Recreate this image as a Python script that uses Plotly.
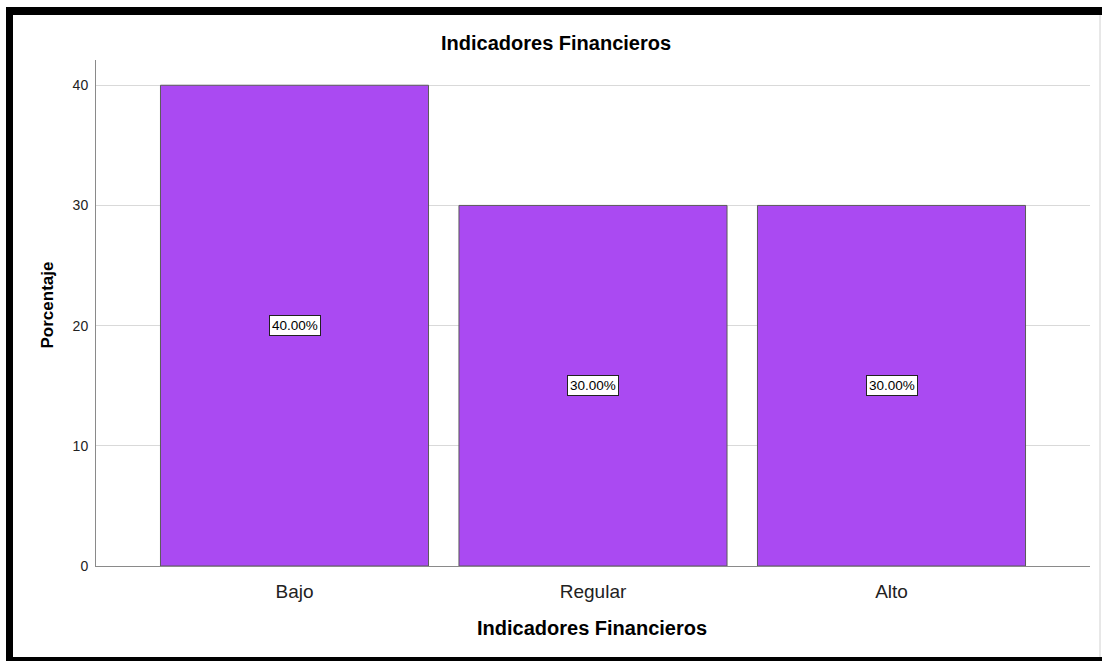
import plotly.graph_objects as go

categories = ["Bajo", "Regular", "Alto"]
percentages = [40.0, 30.0, 30.0]
label_texts = ["40.00%", "30.00%", "30.00%"]
y_ticks = [0, 10, 20, 30, 40]

W, H = 1102, 661
ML, MR, MT, MB = 96, 12, 60, 95
PW = W - ML - MR
PH = H - MT - MB

def px_x(px):
    return (px - ML) / PW

def px_y(py):
    return (H - MB - py) / PH

FONT = "Liberation Sans, Arial, Helvetica, sans-serif"
BAR = "#AA4AF2"

fig = go.Figure()
fig.add_trace(go.Bar(
    x=categories, y=percentages,
    marker=dict(color=BAR, line=dict(color="#5a5a5a", width=1)),
    width=0.898, hoverinfo="skip", showlegend=False,
))

annotations = []
for c, v, t in zip(categories, percentages, label_texts):
    annotations.append(dict(
        x=c, y=v / 2, xref="x", yref="y", text=t, showarrow=False,
        font=dict(family=FONT, size=13.5, color="#000"),
        bgcolor="white", bordercolor="#222", borderwidth=1, borderpad=2,
    ))

annotations += [
    dict(x=px_x(556), y=px_y(43), xref="paper", yref="paper",
         text="<b>Indicadores Financieros</b>", showarrow=False,
         font=dict(family=FONT, size=20, color="#000"), xanchor="center", yanchor="middle"),
    dict(x=px_x(592), y=px_y(628), xref="paper", yref="paper",
         text="<b>Indicadores Financieros</b>", showarrow=False,
         font=dict(family=FONT, size=20, color="#000"), xanchor="center", yanchor="middle"),
    dict(x=px_x(46.5), y=px_y(305), xref="paper", yref="paper",
         text="<b>Porcentaje</b>", showarrow=False, textangle=-90,
         font=dict(family=FONT, size=17, color="#000"), xanchor="center", yanchor="middle"),
]

shapes = [
    dict(type="rect", xref="paper", yref="paper", x0=px_x(6), x1=px_x(13), y0=px_y(661), y1=px_y(7),
         fillcolor="black", line=dict(width=0), layer="above"),
    dict(type="rect", xref="paper", yref="paper", x0=px_x(6), x1=px_x(1102), y0=px_y(15), y1=px_y(7),
         fillcolor="black", line=dict(width=0), layer="above"),
    dict(type="rect", xref="paper", yref="paper", x0=px_x(6), x1=px_x(1102), y0=px_y(661), y1=px_y(657),
         fillcolor="black", line=dict(width=0), layer="above"),
    dict(type="line", xref="paper", yref="paper", x0=px_x(1100), x1=px_x(1100), y0=px_y(657), y1=px_y(15),
         line=dict(color="#d0d0d0", width=1), layer="above"),
]

fig.update_layout(
    width=W, height=H,
    margin=dict(l=ML, r=MR, t=MT, b=MB),
    paper_bgcolor="white", plot_bgcolor="white",
    font=dict(family=FONT, color="#000"),
    annotations=annotations, shapes=shapes,
    bargap=0.1,
    xaxis=dict(
        range=[-0.665, 2.665], showgrid=False, zeroline=False,
        showline=True, linecolor="#8a8a8a", linewidth=1,
        ticks="outside", ticklen=8, tickcolor="rgba(0,0,0,0)",
        tickfont=dict(family=FONT, size=19, color="#222"),
    ),
    yaxis=dict(
        range=[0, 42.1], tickvals=y_ticks, showgrid=True, gridcolor="#d9d9d9", gridwidth=1,
        zeroline=False, showline=True, linecolor="#8a8a8a", linewidth=1,
        ticks="outside", ticklen=4, tickcolor="rgba(0,0,0,0)",
        tickfont=dict(family=FONT, size=14, color="#222"),
    ),
)

fig.write_html("out.html", config={"displayModeBar": False},
               post_script="document.body.style.margin='0';document.body.style.overflow='hidden';")
